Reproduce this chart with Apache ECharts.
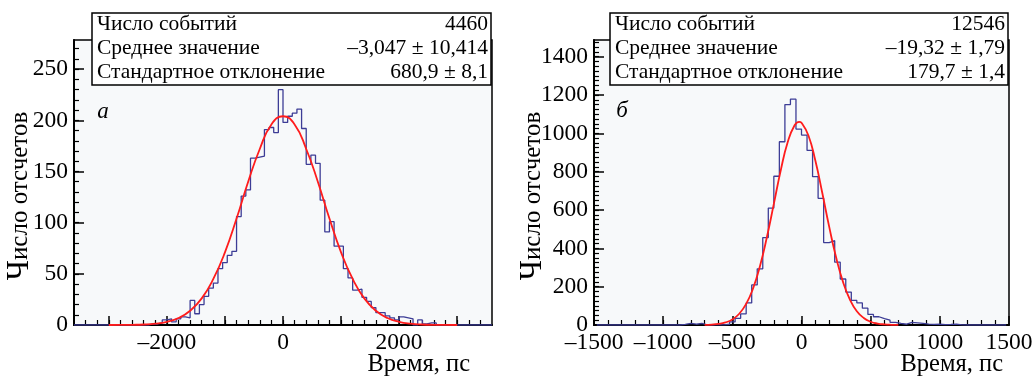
<!DOCTYPE html>
<html>
<head>
<meta charset="utf-8">
<script src="https://cdn.jsdelivr.net/npm/echarts@6/dist/echarts.min.js"></script>
<style>
html,body{margin:0;padding:0;background:#fff;}
#c{width:1032px;height:376px;}
</style>
</head>
<body>
<div id="c"></div>
<script>
// ---------- data ----------
const leftStart = -3600, leftBinWidth = 80;
const leftCounts = [
  0,0,0,0,0,0,0,0,0,0,0,0,0,0,0,0,
  1,1,2,5,6,3,6,8,7,24,11,20,28,36,41,55,61,68,72,106,126,132,163,164,165,191,193,188,230,
  198,204,207,211,192,157,166,158,122,91,101,77,77,55,46,34,35,27,23,17,12,12,9,7,5,8,7,6,0,5,1,2,2,
  0,0,0,0,0,0,0,0,0,0,0,0
];
const rightStart = -1480, rightBinWidth = 40;
const rightCounts = [
  0,0,0,0,0,0,0,0,0,0,0,0,0,0,0,
  3,9,4,8,1,0,2,1,4,16,35,58,115,209,293,456,610,776,956,1150,1178,
  1022,991,911,774,661,430,440,328,240,172,128,115,88,55,43,33,25,14,8,4,14,11,8,5,3,4,2,3,5,1,
  0,0,0,0,0,0,0,0
];
const leftFitX = [-3000,-2800,-2600,-2400,-2200,-2000,-1800,-1600,-1400,-1200,-1000,-800,-600,-400,-200,0,200,400,600,800,1000,1200,1400,1600,1800,2000,2200,2400,2600,2800,3000];
const leftFitY = [0,0.05,0.2,0.5,1.3,3.1,6.8,13.9,26,45,71,104,140,172,196,204,196,172,140,104,71,45,26,13.9,6.8,3.1,1.3,0.5,0.2,0.05,0];
const rightFitX = [-700,-650,-600,-550,-500,-450,-400,-350,-300,-250,-200,-150,-100,-50,-17,0,50,100,150,200,250,300,350,400,450,500,550,600,650,700];
const rightFitY = [0.8,2.2,5.6,13.2,29,58.7,110,191,308,459,632,807,953,1042,1060,1055,989,858,690,513,353,225,133,72,36.6,17.1,7.4,3,1.1,0.4];

const leftXLabels = [-2000, 0, 2000];
const leftXMajor = [-3000,-2000,-1000,0,1000,2000,3000];
const rightXLabels = [-1500,-1000,-500,0,500,1000,1500];
const leftYLabels = [0,50,100,150,200,250];
const rightYLabels = [0,200,400,600,800,1000,1200,1400];

const leftStats = [["Число событий","4460"],["Среднее значение","–3,047 ± 10,414"],["Стандартное отклонение","680,9 ± 8,1"]];
const rightStats = [["Число событий","12546"],["Среднее значение","–19,32 ± 1,79"],["Стандартное отклонение","179,7 ± 1,4"]];
const yTitleFirst = "Ч", yTitleRest = "исло отсчетов";
const xTitle = "Время, пс";
const panelLetters = ["а", "б"];

// ---------- helpers ----------
function range(a, b, step){ const r=[]; for(let v=a; v<=b+1e-9; v+=step) r.push(Math.round(v*1000)/1000); return r; }
function histLine(start, w, counts){
  const d = counts.map((c,i)=>[start + i*w, c]);
  d.push([start + counts.length*w, counts[counts.length-1]]);
  return d;
}
function zip(xs, ys){ return xs.map((x,i)=>[x, ys[i]]); }
const FONT = '"Liberation Serif","Times New Roman",serif';
const fmt = v => v < 0 ? '–' + Math.abs(v) : String(v);
const TICKFONT = 23.5;

const LG = {left:74, top:40, right:1032-492, bottom:51};
const RG = {left:594, top:40, right:1032-1009, bottom:51};

function majorX(grid, min, max, ticks, labels){
  return {type:'value', gridIndex:grid, min, max, position:'bottom',
    axisLine:{show:true, onZero:false, lineStyle:{color:'#000', width:2}},
    axisTick:{show:true, inside:true, length:9, customValues:ticks, lineStyle:{color:'#000', width:1.5}},
    axisLabel:{show:true, customValues:labels, formatter:fmt, color:'#000', fontFamily:FONT, fontSize:TICKFONT, margin:6},
    splitLine:{show:false}};
}
function minorX(grid, min, max, ticks){
  return {type:'value', gridIndex:grid, min, max, position:'bottom',
    axisLine:{show:false, onZero:false},
    axisTick:{show:true, inside:true, length:5, customValues:ticks, lineStyle:{color:'#000', width:1.2}},
    axisLabel:{show:false}, splitLine:{show:false}};
}
function majorY(grid, min, max, ticks, labels){
  return {type:'value', gridIndex:grid, min, max, position:'left',
    axisLine:{show:true, onZero:false, lineStyle:{color:'#000', width:2}},
    axisTick:{show:true, inside:true, length:10, customValues:ticks, lineStyle:{color:'#000', width:1.5}},
    axisLabel:{show:true, customValues:labels, formatter:fmt, color:'#000', fontFamily:FONT, fontSize:TICKFONT, margin:6},
    splitLine:{show:false}};
}
function minorY(grid, min, max, ticks){
  return {type:'value', gridIndex:grid, min, max, position:'left',
    axisLine:{show:false, onZero:false},
    axisTick:{show:true, inside:true, length:5, customValues:ticks, lineStyle:{color:'#000', width:1.2}},
    axisLabel:{show:false}, splitLine:{show:false}};
}

const LXMIN=-3600, LXMAX=3600, LYMAX=278.5;
const RXMIN=-1500, RXMAX=1500, RYMAX=1487;

function statsBox(x0, x1, rows){
  const els = [{type:'rect', z:100, shape:{x:x0, y:13, width:x1-x0, height:72},
    style:{fill:'#fff', stroke:'#000', lineWidth:1.5}}];
  const ys = [24.5, 48, 72];
  rows.forEach((r,i)=>{
    els.push({type:'text', z:101, style:{text:r[0], x:x0+5, y:ys[i], font:'21.5px '+FONT, fill:'#000',
      textAlign:'left', textVerticalAlign:'middle', align:'left', verticalAlign:'middle'}});
    els.push({type:'text', z:101, style:{text:r[1], x:x1-3, y:ys[i], font:'21.5px '+FONT, fill:'#000',
      textAlign:'right', textVerticalAlign:'middle', align:'right', verticalAlign:'middle'}});
  });
  return els;
}
function txt(text, x, y, opts){
  const st = {text, x:0, y:0, font:(opts.style||'')+' '+(opts.size||22)+'px '+FONT, fill:'#000',
      textAlign:opts.align||'center', textVerticalAlign:'middle', align:opts.align||'center', verticalAlign:'middle'};
  if (opts.rich) st.rich = opts.rich;
  return {type:'text', z:101, rotation:opts.rot||0, x, y, style:st};
}
const yTitleRich = {
  big:{fontFamily:FONT, fontSize:31, fill:'#000', verticalAlign:'bottom'},
  n:{fontFamily:FONT, fontSize:25, fill:'#000'}
};
const yTitleText = '{big|' + yTitleFirst + '}{n|' + yTitleRest + '}';

const HIST = {color:'#3d3d96', width:1.3};
const FIT = {color:'#ff1c1c', width:1.8};

const option = {
  animation:false,
  backgroundColor:'#fff',
  grid:[
    Object.assign({show:true, backgroundColor:'#f7f9fa', borderColor:'#000', borderWidth:1.5, containLabel:false, outerBoundsMode:'none'}, LG),
    Object.assign({show:true, backgroundColor:'#f7f9fa', borderColor:'#000', borderWidth:1.5, containLabel:false, outerBoundsMode:'none'}, RG)
  ],
  xAxis:[
    majorX(0, LXMIN, LXMAX, leftXMajor, leftXLabels),
    minorX(0, LXMIN, LXMAX, range(-3400, 3400, 200)),
    majorX(1, RXMIN, RXMAX, rightXLabels, rightXLabels),
    minorX(1, RXMIN, RXMAX, range(-1400, 1400, 100))
  ],
  yAxis:[
    majorY(0, 0, LYMAX, leftYLabels, leftYLabels),
    minorY(0, 0, LYMAX, range(10, 270, 10)),
    majorY(1, 0, RYMAX, rightYLabels, rightYLabels),
    minorY(1, 0, RYMAX, range(25, 1475, 25))
  ],
  series:[
    {type:'line', xAxisIndex:0, yAxisIndex:0, step:'end', symbol:'none', data:histLine(leftStart, leftBinWidth, leftCounts),
      lineStyle:HIST, z:3},
    {type:'line', xAxisIndex:0, yAxisIndex:0, smooth:true, symbol:'none', data:zip(leftFitX, leftFitY),
      lineStyle:FIT, z:4},
    {type:'line', xAxisIndex:2, yAxisIndex:2, step:'end', symbol:'none', data:histLine(rightStart, rightBinWidth, rightCounts),
      lineStyle:HIST, z:3},
    {type:'line', xAxisIndex:2, yAxisIndex:2, smooth:true, symbol:'none', data:zip(rightFitX, rightFitY),
      lineStyle:FIT, z:4}
  ],
  graphic:[].concat(
    statsBox(92, 491, leftStats),
    statsBox(610, 1008, rightStats),
    [
      txt(panelLetters[0], 103, 112, {style:'italic', size:23}),
      txt(panelLetters[1], 622, 111, {style:'italic', size:23}),
      txt(yTitleText, 20, 196, {rot:Math.PI/2, size:25, rich:yTitleRich}),
      txt(yTitleText, 533, 196, {rot:Math.PI/2, size:25, rich:yTitleRich}),
      txt(xTitle, 470, 365, {align:'right', size:24.5}),
      txt(xTitle, 1003, 365, {align:'right', size:24.5})
    ]
  )
};
const chart = echarts.init(document.getElementById('c'), null, {renderer:'canvas'});
chart.setOption(option);
</script>
</body>
</html>
